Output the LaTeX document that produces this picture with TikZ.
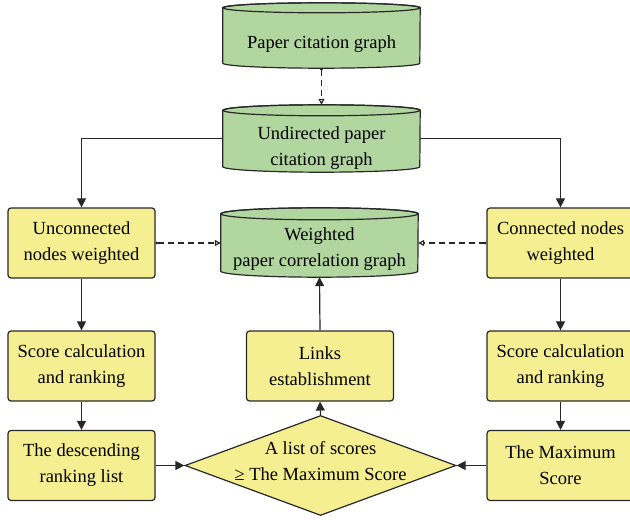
\documentclass[tikz,border=0pt]{standalone}
\usepackage{fontspec}
\setmainfont{Liberation Serif}
\usetikzlibrary{arrows.meta,shapes.geometric,backgrounds}
\definecolor{cgreen}{RGB}{178,214,160}
\definecolor{cyellow}{RGB}{245,239,145}
\definecolor{cline}{RGB}{40,40,40}
\newcommand\mycyl[2]{%
  \filldraw[fill=cgreen,draw=cline,line width=1.2pt]
    ([yshift=-#2]#1.north west) -- ([yshift=#2]#1.south west)
    arc[start angle=180,end angle=360,x radius=98.5pt,y radius=#2]
    -- ([yshift=-#2]#1.north east)
    arc[start angle=0,end angle=180,x radius=98.5pt,y radius=#2] -- cycle;
  \draw[cline,line width=1.2pt] ([yshift=-#2]#1.north) ellipse[x radius=98.5pt,y radius=#2];
}
\begin{document}
\begin{tikzpicture}[x=1pt,y=1pt,
  font=\fontsize{18.5}{26}\selectfont,
  box/.style={draw=cline, line width=1.2pt, fill=cyellow, rounded corners=3pt,
    minimum width=147pt, minimum height=70pt, align=center, inner sep=0pt},
  cylnode/.style={minimum width=197pt, inner sep=0pt, align=center},
  arr/.style={draw=cline,line width=1.2pt,-{Triangle[length=9pt,width=9pt]}},
  darr/.style={draw=cline,line width=1.2pt,dash pattern=on 6pt off 4pt,
    {Circle[length=2.5pt]}-{Triangle[open,length=6pt,width=6pt]}},
]
\useasboundingbox (0,0) rectangle (630,520);
\clip (0,0) rectangle (630,520);

% cylinders
\node[cylnode,minimum height=65pt,
  label={[align=center,yshift=-9pt]center:Paper citation graph}] (c1) at (321.5,484.5) {};
\node[cylnode,minimum height=67pt,
  label={[align=center,yshift=-10pt]center:{Undirected paper\\citation graph}}] (c2) at (321.5,381.5) {};
\node[cylnode,minimum height=69pt,
  label={[align=center,yshift=-7pt]center:{Weighted\\paper correlation graph}}] (c3) at (319.5,277.5) {};

% boxes
\node[box] (b1) at (81.5,277) {Unconnected\\nodes weighted};
\node[box] (b2) at (81.5,154) {Score calculation\\and ranking};
\node[box] (b3) at (81.5,54.5) {The descending\\ranking list};
\node[box] (b4) at (560.5,277) {Connected nodes\\weighted};
\node[box] (b5) at (560.5,154) {Score calculation\\and ranking};
\node[box] (b6) at (560.5,54.5) {The Maximum\\Score};
\node[box] (b7) at (320,154) {Links\\establishment};

% diamond
\node[diamond, draw=cline, line width=1.2pt, fill=cyellow, minimum width=271pt,
  minimum height=100pt, inner sep=0pt, aspect=2.71] (d) at (320.5,54.5) {};
\node[align=center] (dt) at ([yshift=4pt]d.center) {A list of scores\\≥ The Maximum Score};

\begin{scope}[on background layer]
  \mycyl{c1}{5pt}
  \mycyl{c2}{5.5pt}
  \mycyl{c3}{6pt}
\end{scope}

% connectors
\draw[darr] (c1.south) -- (c2.north);
\draw[arr] (c2.west) -| (b1.north);
\draw[arr] (c2.east) -| (b4.north);
\draw[darr] (b1.east) -- (b1.east -| c3.west);
\draw[darr] (b4.west) -- (b4.west -| c3.east);
\draw[arr] (b1) -- (b2);
\draw[arr] (b2) -- (b3);
\draw[arr] (b4) -- (b5);
\draw[arr] (b5) -- (b6);
\draw[arr] (b3.east) -- (d.west);
\draw[arr] (b6.west) -- (d.east);
\draw[arr] (d.north) -- (b7.south);
\draw[arr] (b7.north) -- (c3.south);
\end{tikzpicture}
\end{document}
